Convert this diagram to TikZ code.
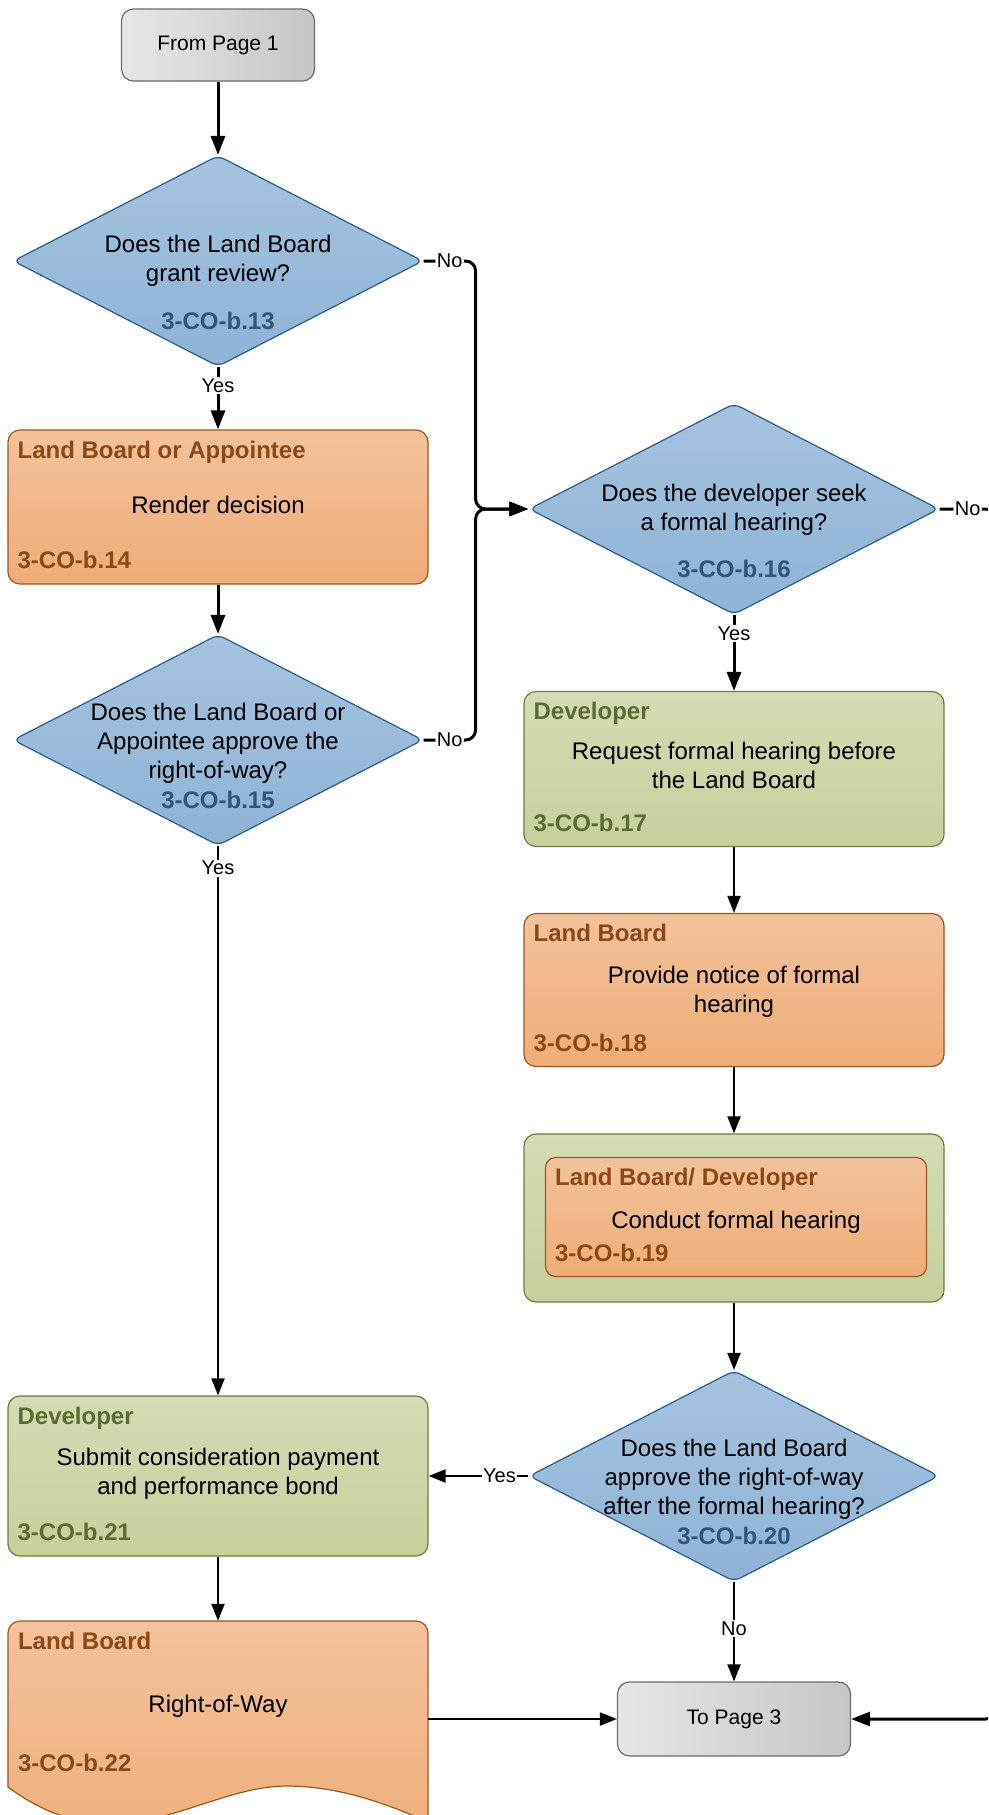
\documentclass[tikz,border=0pt]{standalone}
\usepackage{fontspec}
\setmainfont{Liberation Sans}
\usetikzlibrary{shapes.geometric,arrows.meta,calc,positioning}
\definecolor{decTop}{HTML}{A5C3DF}
\definecolor{decBot}{HTML}{8FB3D6}
\definecolor{decLine}{HTML}{2D5C88}
\definecolor{decCode}{HTML}{30557A}
\definecolor{orgTop}{HTML}{F3C29B}
\definecolor{orgBot}{HTML}{EEAD78}
\definecolor{orgLine}{HTML}{A0561E}
\definecolor{orgText}{HTML}{8A4914}
\definecolor{grnTop}{HTML}{D3DCB4}
\definecolor{grnBot}{HTML}{C6D09D}
\definecolor{grnLine}{HTML}{6C7D3E}
\definecolor{grnText}{HTML}{5B6B33}
\definecolor{pgLeft}{HTML}{E7E7E7}
\definecolor{pgRight}{HTML}{C6C6C6}
\definecolor{pgLine}{HTML}{6B6B6B}
\tikzset{
  decision/.style={diamond, draw=decLine, line width=1.2pt, top color=decTop, bottom color=decBot,
    minimum width=410pt, minimum height=211pt, inner sep=0pt, rounded corners=7pt},
  lbbox/.style={rectangle, draw=orgLine, line width=1.2pt, top color=orgTop, bottom color=orgBot,
    rounded corners=12pt, minimum width=420pt, inner sep=0pt},
  devbox/.style={rectangle, draw=grnLine, line width=1.2pt, top color=grnTop, bottom color=grnBot,
    rounded corners=12pt, minimum width=420pt, inner sep=0pt},
  pagebox/.style={rectangle, draw=pgLine, line width=1.2pt, left color=pgLeft, right color=pgRight,
    rounded corners=12pt, inner sep=0pt, font=\fontsize{21}{25}\selectfont},
  flow/.style={line width=2pt, -{Triangle[length=17pt,width=13pt]}},
  flowthick/.style={flow, line width=3pt, -{Triangle[length=19pt,width=14pt]}},
  lbl/.style={fill=white, inner sep=1.5pt, font=\fontsize{20}{24}\selectfont},
  qtext/.style={align=center, inner sep=0pt, font=\fontsize{24}{29}\selectfont},
  bodytext/.style={qtext},
  titletext/.style={inner sep=0pt, font=\bfseries\fontsize{24}{29}\selectfont},
  codetext/.style={titletext}
}
% role, task (with its drop) and id inside a box
\newcommand{\laneText}[6]{%
  \node[titletext, text=#2, anchor=base west] (#1-role) at ([shift={(10,29)}]#1.north west) {#3};
  \node[bodytext] (#1-task) at ([shift={(0,#6)}]#1.center) {#4};
  \node[codetext, text=#2, anchor=base west] (#1-id) at ([shift={(10,-16)}]#1.south west) {#5};
}
% question (with its drop) and id inside a decision
\newcommand{\decText}[4]{%
  \node[qtext] (#1-q) at ([shift={(0,#4)}]#1.center) {#2};
  \node[codetext, text=decCode] (#1-id) at ([shift={(0,60)}]#1.center) {#3};
}

\begin{document}
\begin{tikzpicture}[x=1pt, y=-1pt]
    \useasboundingbox (0,0) rectangle (988,1815);
    \clip (0,0) rectangle (988,1815);
    % ---------------------
    \node[pagebox, minimum width=193pt, minimum height=72pt] (p1) at (218,45) {From Page 1};
    \node[decision] (d13) at (218,261) {};
    \decText{d13}{Does the Land Board\\grant review?}{3-CO-b.13}{0}
    \node[lbbox, minimum height=154pt] (b14) at (218,507) {};
    \laneText{b14}{orgText}{Land Board or Appointee}{Render decision}{3-CO-b.14}{-2}
    \node[decision] (d15) at (218,740) {};
    \decText{d15}{Does the Land Board or\\Appointee approve the\\right-of-way?}{3-CO-b.15}{3}
    % ---------------------
    \node[decision] (d16) at (734,509) {};
    \decText{d16}{Does the developer seek\\a formal hearing?}{3-CO-b.16}{1}
    \node[devbox, minimum height=155pt] (b17) at (734,769) {};
    \laneText{b17}{grnText}{Developer}{Request formal hearing before\\the Land Board}{3-CO-b.17}{-4}
    \node[lbbox, minimum height=153pt] (b18) at (734,990) {};
    \laneText{b18}{orgText}{Land Board}{Provide notice of formal\\hearing}{3-CO-b.18}{2}
    \node[devbox, minimum height=168pt] (b19o) at (734,1218) {};
    \node[lbbox, minimum width=381pt, minimum height=119pt, rounded corners=10pt] (b19) at (736,1217) {};
    \laneText{b19}{orgText}{Land Board/ Developer}{Conduct formal hearing}{3-CO-b.19}{5}
    \node[decision] (d20) at (734,1476) {};
    \decText{d20}{Does the Land Board\\approve the right-of-way\\after the formal hearing?}{3-CO-b.20}{3}
    % ---------------------
    \node[devbox, minimum height=160pt] (b21) at (218,1476) {};
    \laneText{b21}{grnText}{Developer}{Submit consideration payment\\and performance bond}{3-CO-b.21}{-2}
    \path[draw=orgLine, line width=1.2pt, top color=orgTop, bottom color=orgBot]
      (8,1787) -- (8,1633) arc[start angle=180, end angle=270, radius=12]
      -- (416,1621) arc[start angle=270, end angle=360, radius=12]
      -- (428,1822) .. controls (390,1805) and (340,1786) .. (287,1786)
      .. controls (200,1786) and (120,1870) .. (8,1787) -- cycle;
    \node[minimum width=420pt, minimum height=166pt, inner sep=0pt] (b22) at (218,1704) {};
    \laneText{b22}{orgText}{Land Board}{Right-of-Way}{3-CO-b.22}{2}
    \node[pagebox, minimum width=233pt, minimum height=74pt] (p3) at (734,1719) {To Page 3};
    % ---------------------
    \draw[flowthick] (p1) -- (d13);
    \draw[flowthick] (d13.south) -- node[lbl, pos=0.3] {Yes} (b14.north);
    \draw[flowthick] (b14) -- (d15);
    \draw[flowthick, rounded corners=10pt] (d13.east) -- node[lbl, midway] {No} ++(52,0) |- (d16.west);
    \draw[flowthick, rounded corners=10pt] (d15.east) -- node[lbl, midway] {No} ++(52,0) |- (d16.west);
    \draw[flow] (d15.south) -- node[lbl, pos=0.04] {Yes} (b21.north);
    \draw[flowthick] (d16.south) -- node[lbl, pos=0.24] {Yes} (b17.north);
    \draw[flowthick, rounded corners=10pt] (d16.east) -- node[lbl, midway] {No} ++(56,0) |- (p3.east);
    \draw[flow] (b17) -- (b18);
    \draw[flow] (b18) -- (b19o);
    \draw[flow] (b19o) -- (d20);
    \draw[flow] (d20.west) -- node[lbl, pos=0.29] {Yes} (b21.east);
    \draw[flow] (d20.south) -- node[lbl, pos=0.47] {No} (p3.north);
    \draw[flow] (b21) -- (b22.north);
    \draw[flow] (p3.west -| b22.east) -- (p3.west);
\end{tikzpicture}
\end{document}
